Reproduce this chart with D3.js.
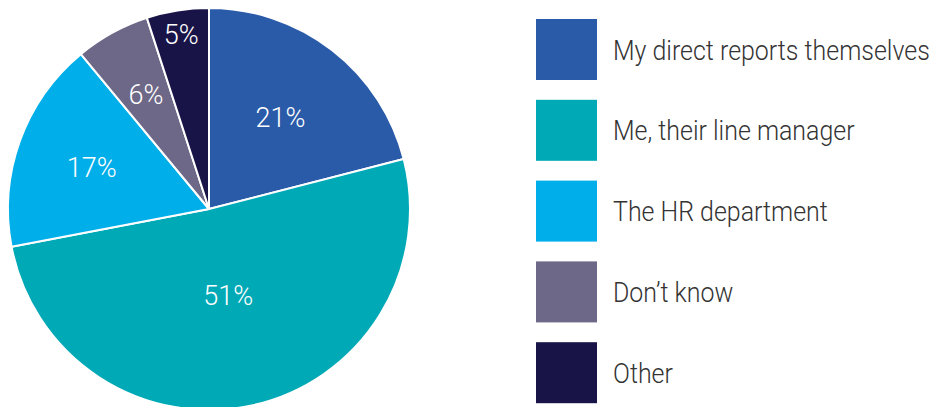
<!DOCTYPE html>
<html>
<head>
<meta charset="utf-8">
<script src="https://cdn.jsdelivr.net/npm/d3@7"></script>
<style>
  html, body { margin: 0; padding: 0; background: #fff; }
  svg { display: block; }
</style>
</head>
<body>
<svg id="chart" width="935" height="407"></svg>
<script>
// Who is responsible for the development of direct reports
const categories = [
  "My direct reports themselves",
  "Me, their line manager",
  "The HR department",
  "Don\u2019t know",
  "Other"
];
const shares = [21, 51, 17, 6, 5];
const colors = ["#2a5ba8", "#00a9b6", "#00aeea", "#6e6888", "#181447"];

// Distance of each percentage label from the centre, as a fraction of the radius
const labelRadiusFrac = [0.58, 0.44, 0.62, 0.65, 0.88];

const svg = d3.select("#chart");
const cx = 209, cy = 209, radius = 201;

const pie = d3.pie().sort(null).value(d => d)(shares);
const arc = d3.arc().innerRadius(0).outerRadius(radius);

const g = svg.append("g").attr("transform", `translate(${cx},${cy})`);

g.selectAll("path.slice")
  .data(pie)
  .join("path")
  .attr("class", "slice")
  .attr("d", arc)
  .attr("fill", (d, i) => colors[i])
  .attr("stroke", "#fff")
  .attr("stroke-width", 2)
  .attr("stroke-linejoin", "round");

g.selectAll("text.pct")
  .data(pie)
  .join("text")
  .attr("class", "pct")
  .attr("transform", (d, i) => {
    const r = radius * labelRadiusFrac[i];
    const a = (d.startAngle + d.endAngle) / 2;
    return `translate(${r * Math.sin(a)},${-r * Math.cos(a)})`;
  })
  .attr("text-anchor", "middle")
  .attr("dy", "0.36em")
  .attr("fill", "#fff")
  .style("font-family", "Roboto, 'Liberation Sans', sans-serif")
  .style("font-weight", 300)
  .style("font-size", "27px")
  .text(d => d.data + "%");

// Legend
const legendX = 536, legendY = 19, swatch = 61, step = 80.8;
const legend = svg.append("g")
  .selectAll("g")
  .data(categories)
  .join("g")
  .attr("transform", (d, i) => `translate(${legendX},${legendY + i * step})`);

legend.append("rect")
  .attr("width", swatch)
  .attr("height", swatch)
  .attr("fill", (d, i) => colors[i]);

const labels = legend.append("text")
  .attr("y", swatch / 2)
  .attr("dy", "0.36em")
  .attr("fill", "#333")
  .style("font-family", "Roboto, 'Liberation Sans', sans-serif")
  .style("font-weight", 300)
  .style("font-size", "28px")
  .text(d => d);

// Condense the legend type so the longest entry fits the space beside the swatches
const maxWidth = 317;
const longest = d3.max(labels.nodes(), n => n.getComputedTextLength());
const squeeze = Math.min(1, maxWidth / longest);
labels.attr("transform", `translate(77,0) scale(${squeeze},1)`);
</script>
</body>
</html>
